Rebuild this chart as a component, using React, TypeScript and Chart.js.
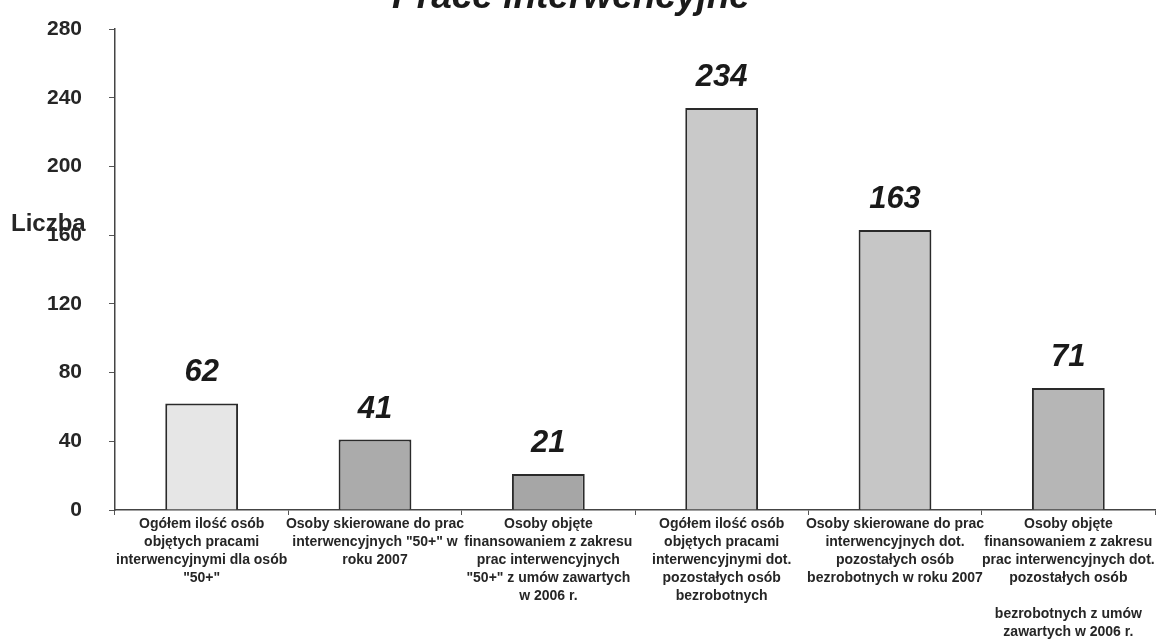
import React, { useEffect, useRef } from "react";
import { Chart, registerables } from "chart.js";

Chart.register(...registerables);

const titleText = "Prace interwencyjne";
const yAxisLabel = "Liczba";

const categories: string[][] = [
  ["Ogółem ilość osób", "objętych pracami", "interwencyjnymi dla osób", "\"50+\""],
  ["Osoby skierowane do prac", "interwencyjnych \"50+\" w", "roku 2007"],
  ["Osoby objęte", "finansowaniem z zakresu", "prac interwencyjnych", "\"50+\" z umów zawartych", "w 2006 r."],
  ["Ogółem ilość osób", "objętych pracami", "interwencyjnymi dot.", "pozostałych osób", "bezrobotnych"],
  ["Osoby skierowane do prac", "interwencyjnych dot.", "pozostałych osób", "bezrobotnych w roku 2007"],
  ["Osoby objęte", "finansowaniem z zakresu", "prac interwencyjnych dot.", "pozostałych osób", "", "bezrobotnych z umów", "zawartych w 2006 r."],
];

const values: number[] = [62, 41, 21, 234, 163, 71];
const barColors: string[] = ["#e6e6e6", "#ababab", "#a6a6a6", "#c9c9c9", "#c6c6c6", "#b6b6b6"];

const yMin = 0;
const yMax = 280;
const yStep = 40;

const textColor = "#262626";

export default function App() {
  const canvasRef = useRef<HTMLCanvasElement | null>(null);

  useEffect(() => {
    if (!canvasRef.current) return;

    const overlayPlugin = {
      id: "overlay",
      afterDraw(chart: any) {
        const ctx = chart.ctx;
        ctx.save();
        // Title (partially cut off at the top)
        ctx.fillStyle = "#1a1a1a";
        ctx.font = "italic bold 37px Arial, 'Liberation Sans', sans-serif";
        ctx.textAlign = "center";
        ctx.textBaseline = "alphabetic";
        ctx.fillText(titleText, 571, 8);

        // Y axis label (horizontal)
        ctx.fillStyle = textColor;
        ctx.font = "bold 24px Arial, 'Liberation Sans', sans-serif";
        ctx.textAlign = "left";
        ctx.textBaseline = "middle";
        ctx.fillText(yAxisLabel, 11, 224);

        // Data labels
        const meta = chart.getDatasetMeta(0);
        ctx.fillStyle = "#1a1a1a";
        ctx.font = "italic bold 31px Arial, 'Liberation Sans', sans-serif";
        ctx.textAlign = "center";
        ctx.textBaseline = "alphabetic";
        meta.data.forEach((bar: any, i: number) => {
          ctx.fillText(String(values[i]), bar.x, bar.y - 22);
        });
        ctx.restore();
      },
    };

    const chart = new Chart(canvasRef.current, {
      type: "bar",
      data: {
        labels: categories,
        datasets: [
          {
            data: values,
            backgroundColor: barColors,
            borderColor: "#2a2a2a",
            borderWidth: 2,
            barPercentage: 0.42,
            categoryPercentage: 1,
          },
        ],
      },
      options: {
        animation: false,
        responsive: true,
        maintainAspectRatio: false,
        layout: { padding: { left: 0, top: 29, right: 19, bottom: 0 } },
        plugins: {
          legend: { display: false },
          title: { display: false },
          tooltip: { enabled: false },
        },
        scales: {
          x: {
            grid: {
              display: true,
              drawOnChartArea: false,
              drawTicks: true,
              tickLength: 5,
              color: "#555555",
              offset: true,
            },
            border: { display: true, color: "#444444", width: 1.5 },
            ticks: {
              color: textColor,
              font: { family: "Arial, 'Liberation Sans', sans-serif", size: 14, weight: "bold", lineHeight: 1.29 },
              maxRotation: 0,
              minRotation: 0,
              autoSkip: false,
              padding: 0,
            },
            afterFit: (scale: any) => {
              scale.height = 133;
            },
          },
          y: {
            min: yMin,
            max: yMax,
            grid: {
              display: true,
              drawOnChartArea: false,
              drawTicks: true,
              tickLength: 6,
              color: "#555555",
            },
            border: { display: true, color: "#444444", width: 1.5 },
            ticks: {
              stepSize: yStep,
              color: textColor,
              font: { family: "Arial, 'Liberation Sans', sans-serif", size: 21, weight: "bold", lineHeight: 0.1 },
              padding: 27,
            },
            afterFit: (scale: any) => {
              scale.width = 115;
            },
          },
        },
      },
      plugins: [overlayPlugin],
    });

    return () => {
      chart.destroy();
    };
  }, []);

  return (
    <div style={{ position: "fixed", left: 0, top: 0, width: 1174, height: 643, background: "#ffffff" }}>
      <canvas ref={canvasRef} />
    </div>
  );
}
